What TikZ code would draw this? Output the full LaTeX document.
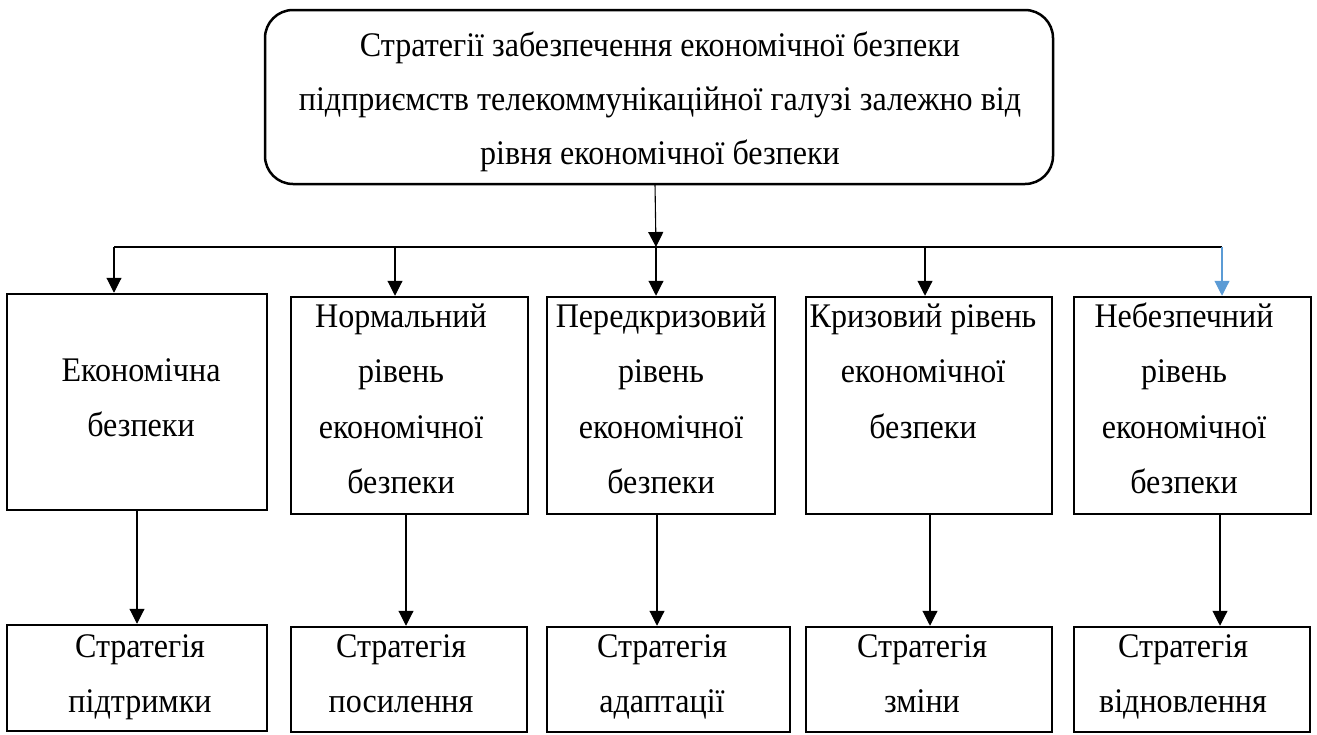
\documentclass[tikz,border=0pt]{standalone}
\usepackage{fontspec}
\setmainfont[FakeStretch=0.93]{Liberation Serif}
\usetikzlibrary{arrows.meta}
\definecolor{blu}{HTML}{5B9BD5}
\newcommand\hs{\rule{0pt}{30pt}}
\begin{document}
\begin{tikzpicture}[x=1pt,y=-1pt,
  box/.style={draw, line width=2.5pt, rectangle, inner sep=0pt},
  txt/.style={anchor=north, inner sep=0pt, align=center, font=\fontsize{34.5}{55}\selectfont},
  arr/.style={line width=1.1pt, -{Triangle[width=15pt,length=15pt]}},
  ln/.style={line width=1.1pt}]
\useasboundingbox (0,0) rectangle (1317,734);
% top box
\node[box, rounded corners=28pt, minimum width=788pt, minimum height=174pt] (top) at (659,97) {};
\node[txt, font=\fontsize{34.5}{54}\selectfont] (t0) at (660,26)
  {\hs Стратегії забезпечення економічної безпеки\\підприємств телекоммунікаційної галузі залежно від\\рівня економічної безпеки};
% level boxes
\node[box, minimum width=260pt, minimum height=216pt] (b1) at (137,402) {};
\node[box, minimum width=237pt, minimum height=217pt] (b2) at (409.5,405.5) {};
\node[box, minimum width=228pt, minimum height=217pt] (b3) at (661,405.5) {};
\node[box, minimum width=246pt, minimum height=217pt] (b4) at (929,405.5) {};
\node[box, minimum width=237pt, minimum height=217pt] (b5) at (1192.5,405.5) {};
\node[txt] (tb1) at (141,351) {\hs Економічна\\безпеки};
\node[txt, font=\fontsize{34.5}{55.5}\selectfont] (tb2) at (401,297) {\hs Нормальний\\рівень\\економічної\\безпеки};
\node[txt, font=\fontsize{34.5}{55.5}\selectfont] (tb3) at (661,297) {\hs Передкризовий\\рівень\\економічної\\безпеки};
\node[txt, font=\fontsize{34.5}{55.5}\selectfont] (tb4) at (923,297) {\hs Кризовий рівень\\економічної\\безпеки};
\node[txt, font=\fontsize{34.5}{55.5}\selectfont] (tb5) at (1184,297) {\hs Небезпечний\\рівень\\економічної\\безпеки};
% strategy boxes
\node[box, minimum width=260pt, minimum height=106pt] (s1) at (137,678) {};
\node[box, minimum width=236pt, minimum height=105pt] (s2) at (409,679.5) {};
\node[box, minimum width=243pt, minimum height=105pt] (s3) at (668.5,679.5) {};
\node[box, minimum width=246pt, minimum height=105pt] (s4) at (929,679.5) {};
\node[box, minimum width=236pt, minimum height=105pt] (s5) at (1192,679.5) {};
\node[txt] (ts1) at (140,627) {\hs Стратегія\\підтримки};
\node[txt] (ts2) at (401,627) {\hs Стратегія\\посилення};
\node[txt] (ts3) at (662,627) {\hs Стратегія\\адаптації};
\node[txt] (ts4) at (922,627) {\hs Стратегія\\зміни};
\node[txt] (ts5) at (1183,627) {\hs Стратегія\\відновлення};
% distribution line
\coordinate (h0) at (655,184);
\coordinate (hm) at (656,247);
\coordinate (h1) at (114,247);
\coordinate (h2) at (395,247);
\coordinate (h4) at (925,247);
\coordinate (h5) at (1222,247);
\draw[arr] (h0) -- (hm);
\draw[ln] (h1) -- (h5);
\draw[arr] (h1) -- (h1 |- b1.north);
\draw[arr] (h2) -- (h2 |- b2.north);
\draw[arr] (hm) -- (hm |- b3.north);
\draw[arr] (h4) -- (h4 |- b4.north);
\draw[arr, draw=blu, fill=blu] (h5) -- (h5 |- b5.north);
% down arrows
\coordinate (v1) at (137,0);
\coordinate (v2) at (406,0);
\coordinate (v3) at (657,0);
\coordinate (v4) at (930,0);
\coordinate (v5) at (1220,0);
\draw[arr] (v1 |- b1.south) -- (v1 |- s1.north);
\draw[arr] (v2 |- b2.south) -- (v2 |- s2.north);
\draw[arr] (v3 |- b3.south) -- (v3 |- s3.north);
\draw[arr] (v4 |- b4.south) -- (v4 |- s4.north);
\draw[arr] (v5 |- b5.south) -- (v5 |- s5.north);
\end{tikzpicture}
\end{document}
